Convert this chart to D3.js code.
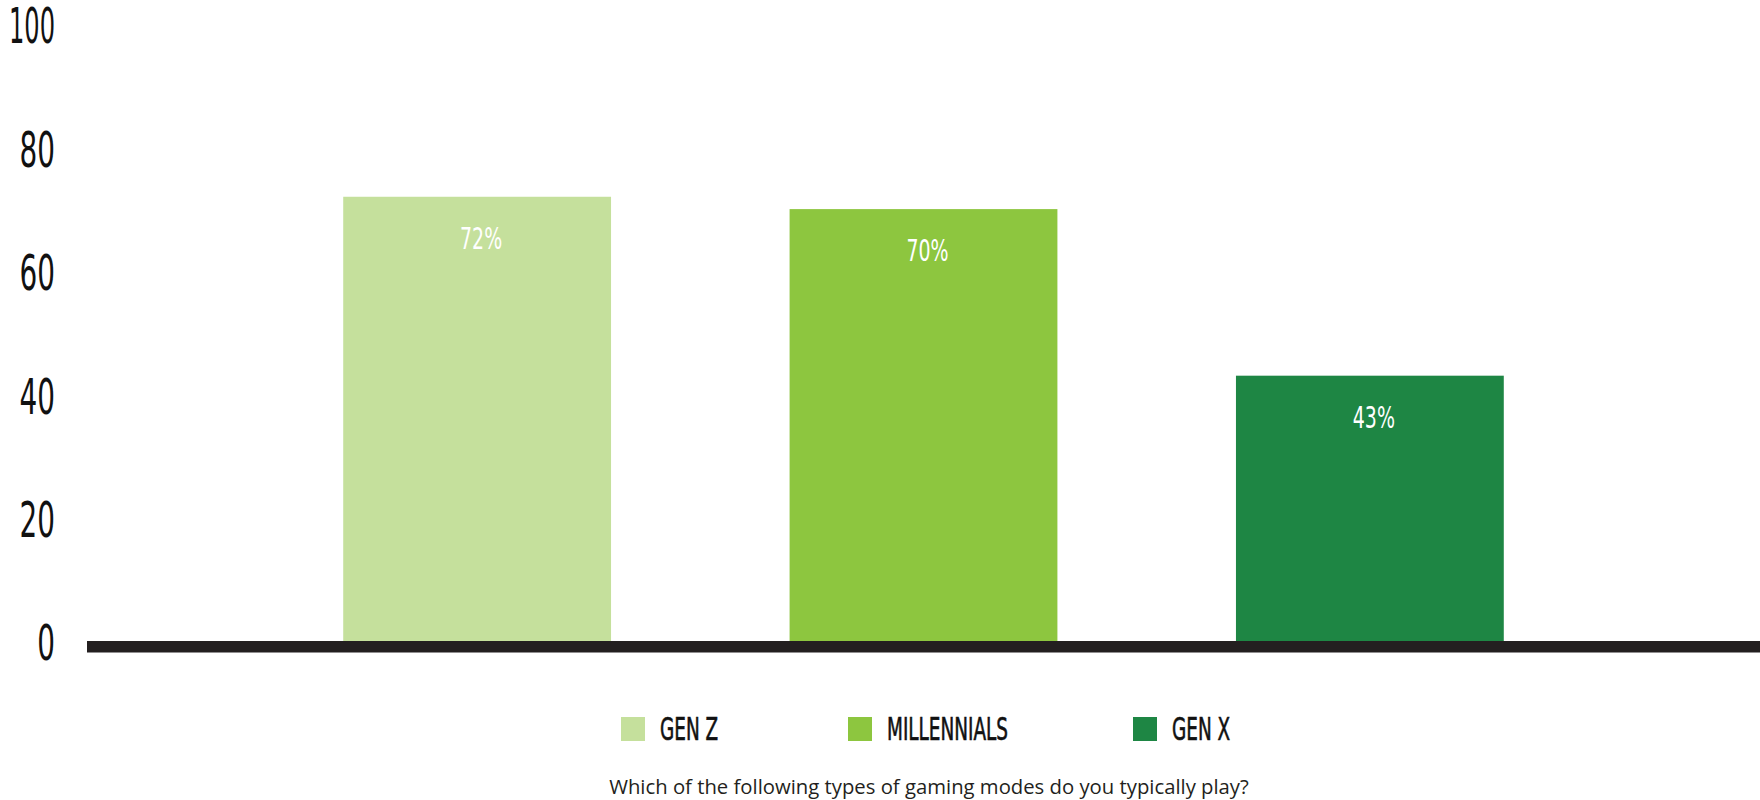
<!DOCTYPE html>
<html>
<head>
<meta charset="utf-8">
<script src="https://cdn.jsdelivr.net/npm/d3@7"></script>
<style>
  body { margin: 0; background: #fff; }
  .cond { font-family: "DejaVu Sans Condensed", "DejaVu Sans", sans-serif; }
  .caption { font-family: "Open Sans", sans-serif; }
</style>
</head>
<body>
<svg id="chart"></svg>
<script>
// data
const categories = ['GEN Z', 'MILLENNIALS', 'GEN X'];
const values = [72, 70, 43];
const yTicks = [0, 20, 40, 60, 80, 100];
const colors = ['#c5e09c', '#8dc63f', '#1e8644'];
const caption = 'Which of the following types of gaming modes do you typically play?';

const config = {
  width: 1760,
  height: 800,
  left: 87,
  zeroY: 641,
  topY: 24,
  axisThickness: 11.5,
  tickMaxWidth: 46,
  legendX: [621, 848, 1133]
};

const svg = d3.select('#chart')
    .attr('width', config.width)
    .attr('height', config.height);

const xScale = d3.scaleBand()
    .domain(categories)
    .range([config.left, config.width])
    .paddingInner(0.4)
    .paddingOuter(0.574);

const yScale = d3.scaleLinear()
    .domain([0, 100])
    .range([config.zeroY, config.topY]);

const colorScale = d3.scaleOrdinal()
    .domain(categories)
    .range(colors);

// condensed text helper: a group that squeezes its text horizontally
function squeezed(parent, x, y, sx) {
  return parent.append('g')
      .attr('transform', `translate(${x},${y}) scale(${sx},1)`);
}

// y tick labels
const tickG = svg.append('g');
yTicks.forEach(t => {
  const g = squeezed(tickG, 55, yScale(t) + 2, 0.62);
  const txt = g.append('text')
      .attr('class', 'cond')
      .attr('text-anchor', 'end')
      .attr('dominant-baseline', 'central')
      .attr('font-size', 50)
      .attr('fill', '#111')
      .text(t);
  // keep wide labels (100) inside the margin
  const raw = txt.node().getComputedTextLength();
  const sx = Math.min(0.62, config.tickMaxWidth / raw);
  g.attr('transform', `translate(55,${yScale(t) + 2}) scale(${sx},1)`);
});

// bars
svg.append('g').selectAll('rect')
    .data(values)
  .join('rect')
    .attr('x', (d, i) => xScale(categories[i]))
    .attr('y', d => yScale(d))
    .attr('width', xScale.bandwidth())
    .attr('height', d => yScale(0) - yScale(d))
    .attr('fill', (d, i) => colorScale(categories[i]));

// value labels inside bars
const labelG = svg.append('g');
values.forEach((v, i) => {
  squeezed(labelG, xScale(categories[i]) + xScale.bandwidth() / 2 + 4, yScale(v) + 41, 0.68)
    .append('text')
      .attr('class', 'cond')
      .attr('text-anchor', 'middle')
      .attr('dominant-baseline', 'central')
      .attr('font-size', 31)
      .attr('fill', '#fff')
      .text(v + '%');
});

// baseline
svg.append('rect')
    .attr('x', config.left)
    .attr('y', yScale(0))
    .attr('width', config.width - config.left)
    .attr('height', config.axisThickness)
    .attr('fill', '#231f20');

// legend
const legend = svg.append('g');
categories.forEach((c, i) => {
  const lx = config.legendX[i];
  legend.append('rect')
      .attr('x', lx)
      .attr('y', 717)
      .attr('width', 24)
      .attr('height', 24)
      .attr('fill', colorScale(c));
  squeezed(legend, lx + 39, 729, 0.64)
    .append('text')
      .attr('class', 'cond')
      .attr('dominant-baseline', 'central')
      .attr('font-size', 32)
      .attr('fill', '#111')
      .attr('stroke', '#111')
      .attr('stroke-width', 0.6)
      .text(c);
});

// caption
svg.append('text')
    .attr('class', 'caption')
    .attr('x', 929)
    .attr('y', 794)
    .attr('text-anchor', 'middle')
    .attr('font-size', 20.3)
    .attr('fill', '#231f20')
    .text(caption);
</script>
</body>
</html>
